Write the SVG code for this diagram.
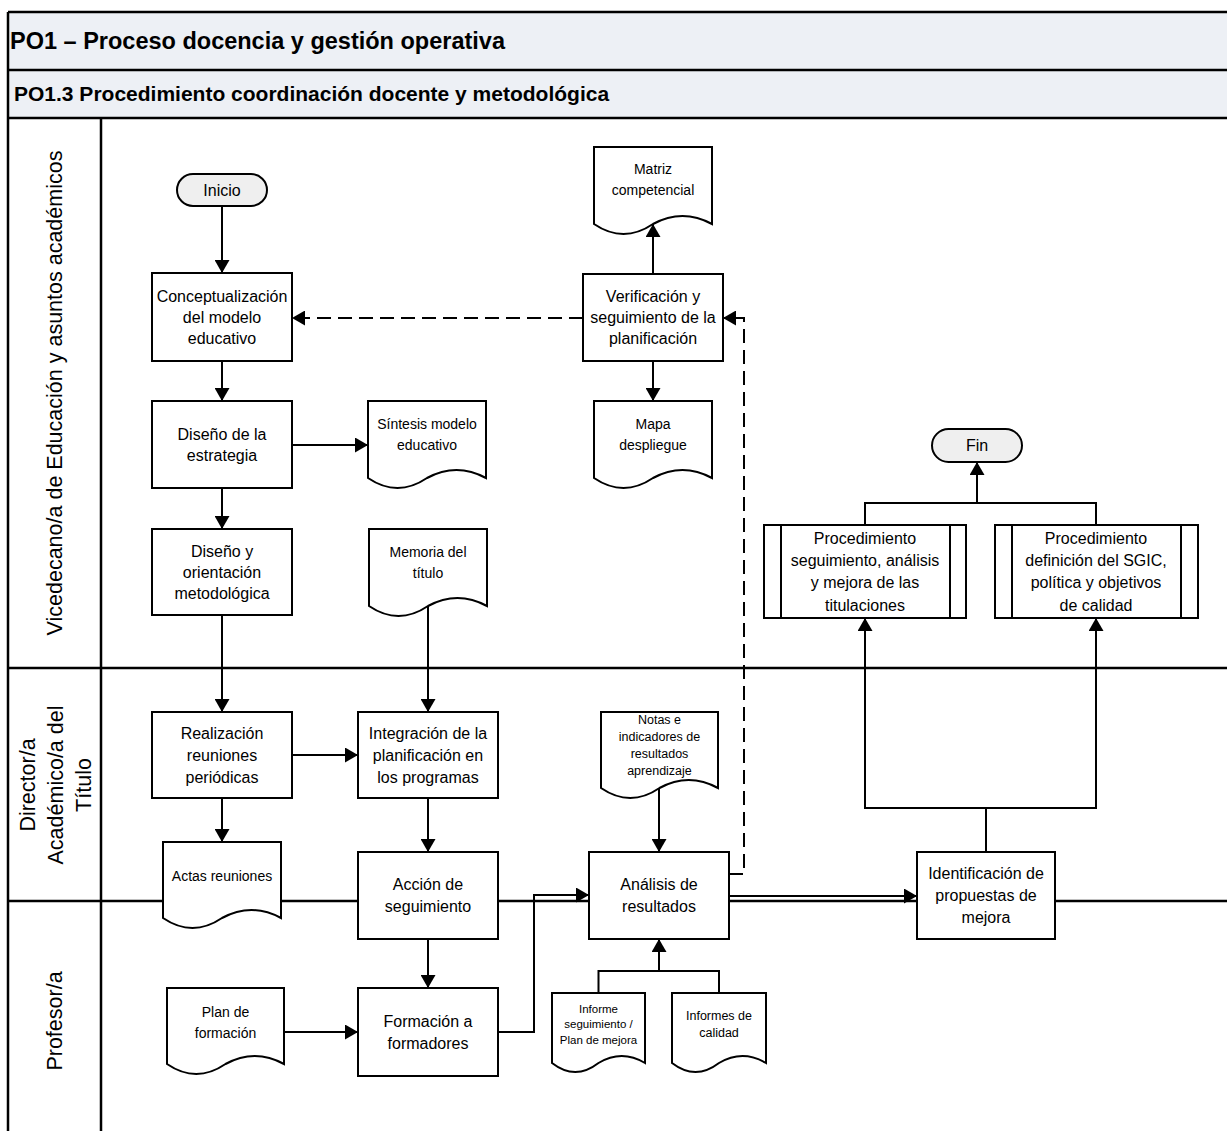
<svg xmlns="http://www.w3.org/2000/svg" width="1227" height="1131" viewBox="0 0 1227 1131">
<defs>
<style>
.t{font-family:"Liberation Sans",Arial,sans-serif;fill:#000;text-anchor:middle}
.b16{font-size:16px}
.d14{font-size:14px}
.box{fill:#fff;stroke:#000;stroke-width:2}
.term{fill:#efefef;stroke:#000;stroke-width:2}
.ln{fill:none;stroke:#000;stroke-width:2}
.arr{marker-end:url(#ah)}
.dash{stroke-dasharray:14 7}
.lane{fill:none;stroke:#000;stroke-width:2.5}
.lbl{font-family:"Liberation Sans",Arial,sans-serif;font-size:21.5px;fill:#000;text-anchor:middle}
</style>
<marker id="ah" viewBox="0 0 13 15" refX="13" refY="7.5" markerWidth="13" markerHeight="15" markerUnits="userSpaceOnUse" orient="auto"><path d="M0,0 L13,7.5 L0,15 z" fill="#000"/></marker>
</defs>
<rect width="1227" height="1131" fill="#fff"/>
<g id="pool">
<rect x="8" y="12" width="1222" height="106" fill="#edf0f5"/>
<path class="lane" d="M8,12 H1227 M8,70 H1227 M8,118 H1227 M8,12 V1131 M101,118 V1131 M8,668 H1227 M8,901 H1227"/>
<text x="10" y="49" style="font-family:'Liberation Sans',Arial,sans-serif;font-weight:bold;font-size:23.5px">PO1 – Proceso docencia y gestión operativa</text>
<text x="14" y="101" style="font-family:'Liberation Sans',Arial,sans-serif;font-weight:bold;font-size:21px">PO1.3 Procedimiento coordinación docente y metodológica</text>
<text class="lbl" transform="translate(62,393) rotate(-90)">Vicedecano/a de Educación y asuntos académicos</text>
<text class="lbl" transform="translate(35,785) rotate(-90)">Director/a</text>
<text class="lbl" transform="translate(63,785) rotate(-90)">Académico/a del</text>
<text class="lbl" transform="translate(91,785) rotate(-90)">Título</text>
<text class="lbl" transform="translate(62,1021) rotate(-90)">Profesor/a</text>
</g>
<g id="connectors">
<path class="ln arr" d="M222,206 V273"/>
<path class="ln arr" d="M222,361 V401"/>
<path class="ln arr" d="M292,445 H368"/>
<path class="ln arr" d="M222,488 V529"/>
<path class="ln arr" d="M222,615 V712"/>
<path class="ln arr" d="M222,798 V842"/>
<path class="ln arr" d="M292,755 H358"/>
<path class="ln arr" d="M428,606 V712"/>
<path class="ln arr" d="M428,798 V852"/>
<path class="ln arr" d="M428,939 V988"/>
<path class="ln arr" d="M284,1032 H358"/>
<path class="ln arr" d="M498,1032 H534 V895 H589"/>
<path class="ln arr" d="M659,788 V852"/>
<path class="ln" d="M598.5,993 V971 H719 V993"/>
<path class="ln arr" d="M659,971 V939"/>
<path class="ln arr" d="M729,896 H917"/>
<path class="ln arr dash" d="M729,874 H744 V318 H723"/>
<path class="ln arr dash" d="M583,318 H292"/>
<path class="ln arr" d="M653,274 V224"/>
<path class="ln arr" d="M653,361 V401"/>
<path class="ln arr" d="M986,852 V808 H865 V618"/>
<path class="ln arr" d="M986,808 H1096 V618"/>
<path class="ln" d="M865,525 V503 H1096 V525"/>
<path class="ln arr" d="M977,503 V462"/>
</g>
<g id="inicio"><rect class="term" x="177" y="174" width="90" height="32" rx="16"/><text class="t b16" x="222" y="195.5">Inicio</text></g>
<g id="conceptualizacion"><rect class="box" x="152" y="273" width="140" height="88"/><text class="t b16" x="222" y="302">Conceptualización</text><text class="t b16" x="222" y="323">del modelo</text><text class="t b16" x="222" y="344">educativo</text></g>
<g id="diseno-estrategia"><rect class="box" x="152" y="401" width="140" height="87"/><text class="t b16" x="222" y="440">Diseño de la</text><text class="t b16" x="222" y="461">estrategia</text></g>
<g id="diseno-orientacion"><rect class="box" x="152" y="529" width="140" height="86"/><text class="t b16" x="222" y="557">Diseño y</text><text class="t b16" x="222" y="578">orientación</text><text class="t b16" x="222" y="599">metodológica</text></g>
<g id="sintesis"><path class="box" d="M368,401 H486 V478 Q456.5,462 427,478 Q397.5,498 368,478 Z"/><text class="t d14" x="427" y="429">Síntesis modelo</text><text class="t d14" x="427" y="450">educativo</text></g>
<g id="memoria"><path class="box" d="M369,529 H487 V606 Q457.5,590 428,606 Q398.5,626 369,606 Z"/><text class="t d14" x="428" y="557">Memoria del</text><text class="t d14" x="428" y="578">título</text></g>
<g id="matriz"><path class="box" d="M594,147 H712 V224 Q682.5,208 653,224 Q623.5,244 594,224 Z"/><text class="t d14" x="653" y="174">Matriz</text><text class="t d14" x="653" y="195">competencial</text></g>
<g id="verificacion"><rect class="box" x="583" y="274" width="140" height="87"/><text class="t b16" x="653" y="302">Verificación y</text><text class="t b16" x="653" y="323">seguimiento de la</text><text class="t b16" x="653" y="344">planificación</text></g>
<g id="mapa"><path class="box" d="M594,401 H712 V478 Q682.5,462 653,478 Q623.5,498 594,478 Z"/><text class="t d14" x="653" y="429">Mapa</text><text class="t d14" x="653" y="450">despliegue</text></g>
<g id="fin"><rect class="term" x="932" y="429" width="90" height="33" rx="16.5"/><text class="t b16" x="977" y="451">Fin</text></g>
<g id="proc-seguimiento"><rect class="box" x="764" y="525" width="202" height="93"/><path class="ln" d="M781,525 V618 M950,525 V618"/><text class="t b16" x="865" y="543.5">Procedimiento</text><text class="t b16" x="865" y="565.5">seguimiento, análisis</text><text class="t b16" x="865" y="588">y mejora de las</text><text class="t b16" x="865" y="610.5">titulaciones</text></g>
<g id="proc-sgic"><rect class="box" x="995" y="525" width="203" height="93"/><path class="ln" d="M1012,525 V618 M1181,525 V618"/><text class="t b16" x="1096" y="543.5">Procedimiento</text><text class="t b16" x="1096" y="565.5">definición del SGIC,</text><text class="t b16" x="1096" y="588">política y objetivos</text><text class="t b16" x="1096" y="610.5">de calidad</text></g>
<g id="realizacion"><rect class="box" x="152" y="712" width="140" height="86"/><text class="t b16" x="222" y="739">Realización</text><text class="t b16" x="222" y="761">reuniones</text><text class="t b16" x="222" y="783">periódicas</text></g>
<g id="integracion"><rect class="box" x="358" y="712" width="140" height="86"/><text class="t b16" x="428" y="739">Integración de la</text><text class="t b16" x="428" y="761">planificación en</text><text class="t b16" x="428" y="783">los programas</text></g>
<g id="notas"><path class="box" d="M601,712 H718 V788 Q688.75,772 659.5,788 Q630.25,808 601,788 Z"/><text class="t" style="font-size:12.5px" x="659.5" y="723.5">Notas e</text><text class="t" style="font-size:12.5px" x="659.5" y="740.5">indicadores de</text><text class="t" style="font-size:12.5px" x="659.5" y="757.5">resultados</text><text class="t" style="font-size:12.5px" x="659.5" y="774.5">aprendizaje</text></g>
<g id="actas"><path class="box" d="M163,842 H281 V918 Q251.5,902 222,918 Q192.5,938 163,918 Z"/><text class="t d14" x="222" y="881">Actas reuniones</text></g>
<g id="accion"><rect class="box" x="358" y="852" width="140" height="87"/><text class="t b16" x="428" y="890">Acción de</text><text class="t b16" x="428" y="912">seguimiento</text></g>
<g id="analisis"><rect class="box" x="589" y="852" width="140" height="87"/><text class="t b16" x="659" y="890">Análisis de</text><text class="t b16" x="659" y="912">resultados</text></g>
<g id="identificacion"><rect class="box" x="917" y="852" width="138" height="87"/><text class="t b16" x="986" y="879">Identificación de</text><text class="t b16" x="986" y="901">propuestas de</text><text class="t b16" x="986" y="923">mejora</text></g>
<g id="plan-formacion"><path class="box" d="M167,988 H284 V1064 Q254.75,1048 225.5,1064 Q196.25,1084 167,1064 Z"/><text class="t d14" x="225.5" y="1017">Plan de</text><text class="t d14" x="225.5" y="1038">formación</text></g>
<g id="formacion"><rect class="box" x="358" y="988" width="140" height="88"/><text class="t b16" x="428" y="1027">Formación a</text><text class="t b16" x="428" y="1049">formadores</text></g>
<g id="informe-seguimiento"><path class="box" d="M552,993 H645 V1063 Q621.75,1049 598.5,1063 Q575.25,1081 552,1063 Z"/><text class="t" style="font-size:11.5px" x="598.5" y="1013">Informe</text><text class="t" style="font-size:11.5px" x="598.5" y="1028">seguimiento /</text><text class="t" style="font-size:11.5px" x="598.5" y="1044">Plan de mejora</text></g>
<g id="informes-calidad"><path class="box" d="M672,993 H766 V1063 Q742.5,1049 719,1063 Q695.5,1081 672,1063 Z"/><text class="t" style="font-size:12.5px" x="719" y="1019.5">Informes de</text><text class="t" style="font-size:12.5px" x="719" y="1036.5">calidad</text></g>
</svg>
